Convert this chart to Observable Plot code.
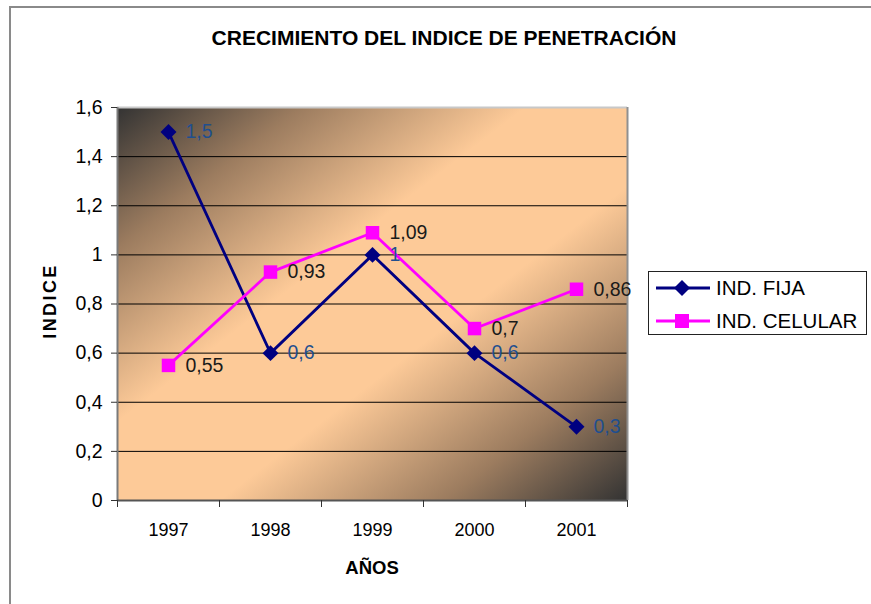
<!DOCTYPE html>
<html>
<head>
<meta charset="utf-8">
<script src="https://cdn.jsdelivr.net/npm/d3@7"></script>
<script src="https://cdn.jsdelivr.net/npm/@observablehq/plot@0.6"></script>
<style>
  html, body { margin: 0; padding: 0; background: #fff; }
  #wrap { position: relative; width: 871px; height: 604px; font-family: "Liberation Sans", Arial, sans-serif; overflow: hidden; }
  .frameTop { position: absolute; left: 10px; top: 6px; width: 861px; height: 2px; background: #8a8a8a; }
  .frameLeft { position: absolute; left: 9px; top: 6px; width: 2px; height: 598px; background: #8a8a8a; }
  #title { position: absolute; left: 444px; top: 38px; transform: translate(-50%, -50%); font-weight: bold; font-size: 21px; color: #000; white-space: nowrap; }
  #ytitle { position: absolute; left: 50px; top: 301px; transform: translate(-50%, -50%) rotate(-90deg); font-weight: bold; font-size: 18px; letter-spacing: 2.4px; white-space: nowrap; }
  #xtitle { position: absolute; left: 372px; top: 568px; transform: translate(-50%, -50%); font-weight: bold; font-size: 18.5px; }
  #legend { position: absolute; left: 648px; top: 271px; width: 217px; height: 62px; border: 1px solid #222; background: #fff; }
  .lrow { position: absolute; left: 0; height: 30px; width: 217px; }
  .lrow svg { position: absolute; left: 6px; top: 0; }
  .lrow span { position: absolute; left: 67px; top: 3px; font-size: 20.5px; white-space: nowrap; }
  #chart { position: absolute; left: 0; top: 0; }
</style>
</head>
<body>
<div id="wrap">
  <div class="frameTop"></div>
  <div class="frameLeft"></div>
  <div id="chart"></div>
  <div id="title">CRECIMIENTO DEL INDICE DE PENETRACIÓN</div>
  <div id="ytitle">INDICE</div>
  <div id="xtitle">AÑOS</div>
  <div id="legend"></div>
</div>
<script>
// ---- data ----
const years = [1997, 1998, 1999, 2000, 2001];
const fijaValues = [1.5, 0.6, 1, 0.6, 0.3];
const celularValues = [0.55, 0.93, 1.09, 0.7, 0.86];
const seriesNames = ["IND. FIJA", "IND. CELULAR"];
const yTicks = [0, 0.2, 0.4, 0.6, 0.8, 1, 1.2, 1.4, 1.6];
const gridTicks = [0.2, 0.4, 0.6, 0.8, 1, 1.2, 1.4];
const bandEdges = [1996.5, 1997.5, 1998.5, 1999.5, 2000.5, 2001.5];

const fija = years.map((y, i) => ({year: y, v: fijaValues[i]}));
const celular = years.map((y, i) => ({year: y, v: celularValues[i]}));
const comma = d => String(d).replace(".", ",");

const navy = "#000080";
const magenta = "#ff00ff";

const defs = () => {
  const g = d3.create("svg:defs");
  const lg = g.append("linearGradient").attr("id", "bg")
    .attr("x1", 0).attr("y1", 0).attr("x2", 1).attr("y2", 1);
  [[0, "#333333"], [0.18, "#9c7c5f"], [0.4, "#fdca98"], [0.6, "#fdca98"], [0.82, "#9c7c5f"], [1, "#333333"]]
    .forEach(([o, c]) => lg.append("stop").attr("offset", o).attr("stop-color", c));
  return g.node();
};

const chart = Plot.plot({
  width: 871,
  height: 604,
  marginLeft: 117,
  marginRight: 244,
  marginTop: 107,
  marginBottom: 104,
  style: {fontFamily: "'Liberation Sans', Arial, sans-serif", background: "transparent", color: "#000"},
  x: {type: "linear", domain: [1996.5, 2001.5]},
  y: {domain: [0, 1.6]},
  marks: [
    defs,
    Plot.frame({fill: "url(#bg)", stroke: null}),
    Plot.ruleY(gridTicks, {stroke: "#000", strokeWidth: 1}),
    Plot.ruleY([1.6], {stroke: "#c8c8c8", strokeWidth: 2}),
    Plot.ruleX([2001.5], {stroke: "#909090", strokeWidth: 2}),
    Plot.ruleX([1996.5], {stroke: "#7a7a7a", strokeWidth: 2}),
    Plot.ruleY([0], {stroke: "#555", strokeWidth: 2}),
    Plot.axisY({ticks: yTicks, tickSize: 6, tickPadding: 9, tickFormat: comma, fontSize: 19.5, label: null, stroke: "#333"}),
    Plot.axisX({ticks: bandEdges, tickSize: 7, tickFormat: () => "", label: null, stroke: "#333"}),
    Plot.axisX({ticks: years, tickSize: 0, tickPadding: 23, tickFormat: d => String(d), fontSize: 18, label: null}),
    Plot.line(fija, {x: "year", y: "v", stroke: navy, strokeWidth: 2.8}),
    Plot.line(celular, {x: "year", y: "v", stroke: magenta, strokeWidth: 2.8}),
    Plot.dot(fija, {x: "year", y: "v", symbol: "diamond2", r: 7.2, fill: navy, stroke: null}),
    Plot.dot(celular, {x: "year", y: "v", symbol: "square2", r: 8.6, fill: magenta, stroke: null}),
    Plot.text(fija, {x: "year", y: "v", text: d => comma(d.v), dx: 17, textAnchor: "start", fill: "#1f4f8f", fontSize: 19.5}),
    Plot.text(celular, {x: "year", y: "v", text: d => comma(d.v), dx: 17, textAnchor: "start", fill: "#1a1a1a", fontSize: 19.5})
  ]
});
document.getElementById("chart").appendChild(chart);

// legend
const legend = document.getElementById("legend");
[[seriesNames[0], navy, "diamond"], [seriesNames[1], magenta, "square"]].forEach(([name, color, sym], i) => {
  const row = document.createElement("div");
  row.className = "lrow";
  row.style.top = (i === 0 ? 1 : 34) + "px";
  const marker = sym === "diamond"
    ? `<path d="M27,7 L35,15 L27,23 L19,15 Z" fill="${color}"/>`
    : `<rect x="20" y="8" width="14" height="14" fill="${color}"/>`;
  row.innerHTML = `<svg width="58" height="30"><line x1="1" x2="55" y1="15" y2="15" stroke="${color}" stroke-width="2.8"/>${marker}</svg><span>${name}</span>`;
  legend.appendChild(row);
});
</script>
</body>
</html>
